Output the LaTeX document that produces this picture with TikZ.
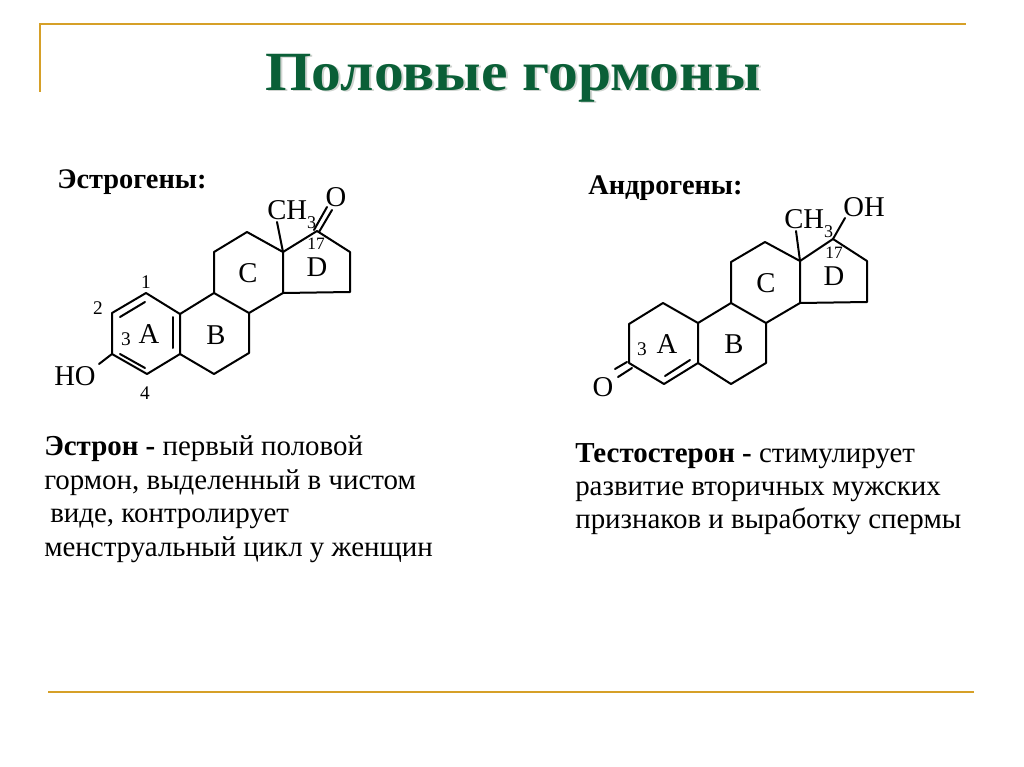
\documentclass[tikz,border=0pt]{standalone}
\usepackage{fontspec}
\setmainfont{Liberation Serif}
\usepackage{xcolor}
\definecolor{gold}{RGB}{214, 160, 40}
\definecolor{darkgreen}{RGB}{10, 95, 55}
\definecolor{shadowgray}{RGB}{208, 212, 208}
\newcommand{\subthree}{\raisebox{-6.75pt}{\fontsize{13.5}{13.5}\selectfont 3}}
\tikzset{
  rule/.style={gold, line width=2.1pt},
  bond/.style={black, line width=1.5pt, line cap=round, line join=round},
  atom/.style={inner sep=0pt, font=\fontsize{21.5}{21.5}\selectfont},
  methyl/.style={atom, anchor=base west},
  ringlabel/.style={inner sep=0pt, font=\fontsize{21.5}{21.5}\selectfont},
  locant/.style={inner sep=0pt, font=\fontsize{14.5}{14.5}\selectfont},
  bridgelocant/.style={inner sep=0pt, font=\fontsize{13}{13}\selectfont},
  heading/.style={anchor=base west, inner sep=0pt, font=\fontsize{21.3}{21.3}\selectfont\bfseries},
  bodytext/.style={anchor=base west, inner sep=0pt, font=\fontsize{21.7}{21.7}\selectfont},
  titletext/.style={anchor=base, inner sep=0pt, xscale=1.077, font=\fontsize{41.5}{41.5}\selectfont\bfseries}
}
\begin{document}
\begin{tikzpicture}[x=0.75pt, y=-0.75pt]
    \useasboundingbox (0,0) rectangle (1024,767);

    % Frame
    \coordinate (topleft) at (40,24);
    \coordinate (topright) at (966,24);
    \coordinate (leftend) at (40,92);
    \coordinate (botleft) at (48,692);
    \coordinate (botright) at (974,692);
    \draw[rule] (leftend) -- (topleft) -- (topright);
    \draw[rule] (botleft) -- (botright);

    % Title
    \node[titletext, shadowgray] (titleshadow) at (515,92) {Половые гормоны};
    \node[titletext, darkgreen] (title) at (513,90) {Половые гормоны};

    % Estrone atoms
    \coordinate (ea1) at (146,293);
    \coordinate (ea2) at (112,313);
    \coordinate (ea3) at (112,354);
    \coordinate (ea4) at (147,374);
    \coordinate (ea5) at (180,354);
    \coordinate (ea6) at (180,314);
    \coordinate (eb1) at (214,293);
    \coordinate (eb2) at (249,313);
    \coordinate (eb3) at (249,353);
    \coordinate (eb4) at (214,374);
    \coordinate (ec1) at (214,252);
    \coordinate (ec2) at (247,232);
    \coordinate (ec3) at (283,252);
    \coordinate (ec4) at (283,293);
    \coordinate (ed1) at (317,231);
    \coordinate (ed2) at (350,252);
    \coordinate (ed3) at (350,292);

    % Estrone bonds
    \draw[bond] (ea1) -- (ea2) -- (ea3) -- (ea4) -- (ea5) -- (ea6) -- cycle;
    \draw[bond] (ea6) -- (eb1) -- (eb2) -- (eb3) -- (eb4) -- (ea5);
    \draw[bond] (eb1) -- (ec1) -- (ec2) -- (ec3) -- (ec4) -- (eb2);
    \draw[bond] (ec3) -- (ed1) -- (ed2) -- (ed3) -- (ec4);

    % Estrone inner double bonds
    \coordinate (ei1) at (120,317);
    \coordinate (ei2) at (145,302);
    \coordinate (ei3) at (120,354);
    \coordinate (ei4) at (145,368);
    \coordinate (ei5) at (173,317);
    \coordinate (ei6) at (173,348);
    \draw[bond] (ei1) -- (ei2);
    \draw[bond] (ei3) -- (ei4);
    \draw[bond] (ei5) -- (ei6);

    % Estrone substituents
    \node[atom] (eho) at (75,376) {HO};
    \node[methyl] (ech) at (267,219) {CH\subthree};
    \node[atom] (eoxy) at (336,197) {O};
    \coordinate (ehoend) at (99,364);
    \coordinate (emeend) at (277,222);
    \coordinate (eo1a) at (314,230);
    \coordinate (eo1b) at (327,207);
    \coordinate (eo2a) at (319,232);
    \coordinate (eo2b) at (332,210);
    \draw[bond] (ea3) -- (ehoend);
    \draw[bond] (ec3) -- (emeend);
    \draw[bond] (eo1a) -- (eo1b);
    \draw[bond] (eo2a) -- (eo2b);

    % Estrone labels
    \node[ringlabel] (elabA) at (149,334) {A};
    \node[ringlabel] (elabB) at (216,335) {B};
    \node[ringlabel] (elabC) at (248,273) {C};
    \node[ringlabel] (elabD) at (317,267) {D};
    \node[locant] (eloc1) at (146,282) {1};
    \node[locant] (eloc2) at (98,308) {2};
    \node[locant] (eloc3) at (126,339) {3};
    \node[locant] (eloc4) at (145,393) {4};
    \node[bridgelocant] (eloc17) at (316,244) {17};

    % Testosterone atoms
    \coordinate (ta1) at (663,303);
    \coordinate (ta2) at (629,324);
    \coordinate (ta3) at (629,363);
    \coordinate (ta4) at (664,384);
    \coordinate (ta5) at (698,363);
    \coordinate (ta6) at (698,323);
    \coordinate (tb1) at (731,303);
    \coordinate (tb2) at (766,323);
    \coordinate (tb3) at (766,363);
    \coordinate (tb4) at (731,384);
    \coordinate (tc1) at (731,262);
    \coordinate (tc2) at (765,242);
    \coordinate (tc3) at (800,261);
    \coordinate (tc4) at (800,303);
    \coordinate (td1) at (833,239);
    \coordinate (td2) at (867,261);
    \coordinate (td3) at (867,302);

    % Testosterone bonds
    \draw[bond] (ta1) -- (ta2) -- (ta3) -- (ta4) -- (ta5) -- (ta6) -- cycle;
    \draw[bond] (ta6) -- (tb1) -- (tb2) -- (tb3) -- (tb4) -- (ta5);
    \draw[bond] (tb1) -- (tc1) -- (tc2) -- (tc3) -- (tc4) -- (tb2);
    \draw[bond] (tc3) -- (td1) -- (td2) -- (td3) -- (tc4);

    % Testosterone inner double bond
    \coordinate (ti1) at (665,376);
    \coordinate (ti2) at (690,360);
    \draw[bond] (ti1) -- (ti2);

    % Testosterone substituents
    \node[atom] (toxy) at (603,387) {O};
    \node[methyl] (tch) at (784,228) {CH\subthree};
    \node[atom] (toh) at (864,207) {OH};
    \coordinate (tmeend) at (796,231);
    \coordinate (tohend) at (845,218);
    \coordinate (to1a) at (627,362);
    \coordinate (to1b) at (615,369);
    \coordinate (to2a) at (632,368);
    \coordinate (to2b) at (618,377);
    \draw[bond] (tc3) -- (tmeend);
    \draw[bond] (td1) -- (tohend);
    \draw[bond] (to1a) -- (to1b);
    \draw[bond] (to2a) -- (to2b);

    % Testosterone labels
    \node[ringlabel] (tlabA) at (667,344) {A};
    \node[ringlabel] (tlabB) at (734,344) {B};
    \node[ringlabel] (tlabC) at (766,283) {C};
    \node[ringlabel] (tlabD) at (834,276) {D};
    \node[locant] (tloc3) at (642,349) {3};
    \node[bridgelocant] (tloc17) at (834,253) {17};

    % Headings
    \node[heading] (estrogens) at (57,188) {Эстрогены:};
    \node[heading] (androgens) at (588,194) {Андрогены:};

    % Left text
    \node[bodytext] (eline1) at (44,455) {\textbf{Эстрон -} первый половой};
    \node[bodytext] (eline2) at (44,489) {гормон, выделенный в чистом};
    \node[bodytext] (eline3) at (50,522) {виде, контролирует};
    \node[bodytext] (eline4) at (44,556) {менструальный цикл у женщин};

    % Right text
    \node[bodytext] (tline1) at (575,462) {\textbf{Тестостерон -} стимулирует};
    \node[bodytext] (tline2) at (575,495) {развитие вторичных мужских};
    \node[bodytext] (tline3) at (575,528) {признаков и выработку спермы};
\end{tikzpicture}
\end{document}
